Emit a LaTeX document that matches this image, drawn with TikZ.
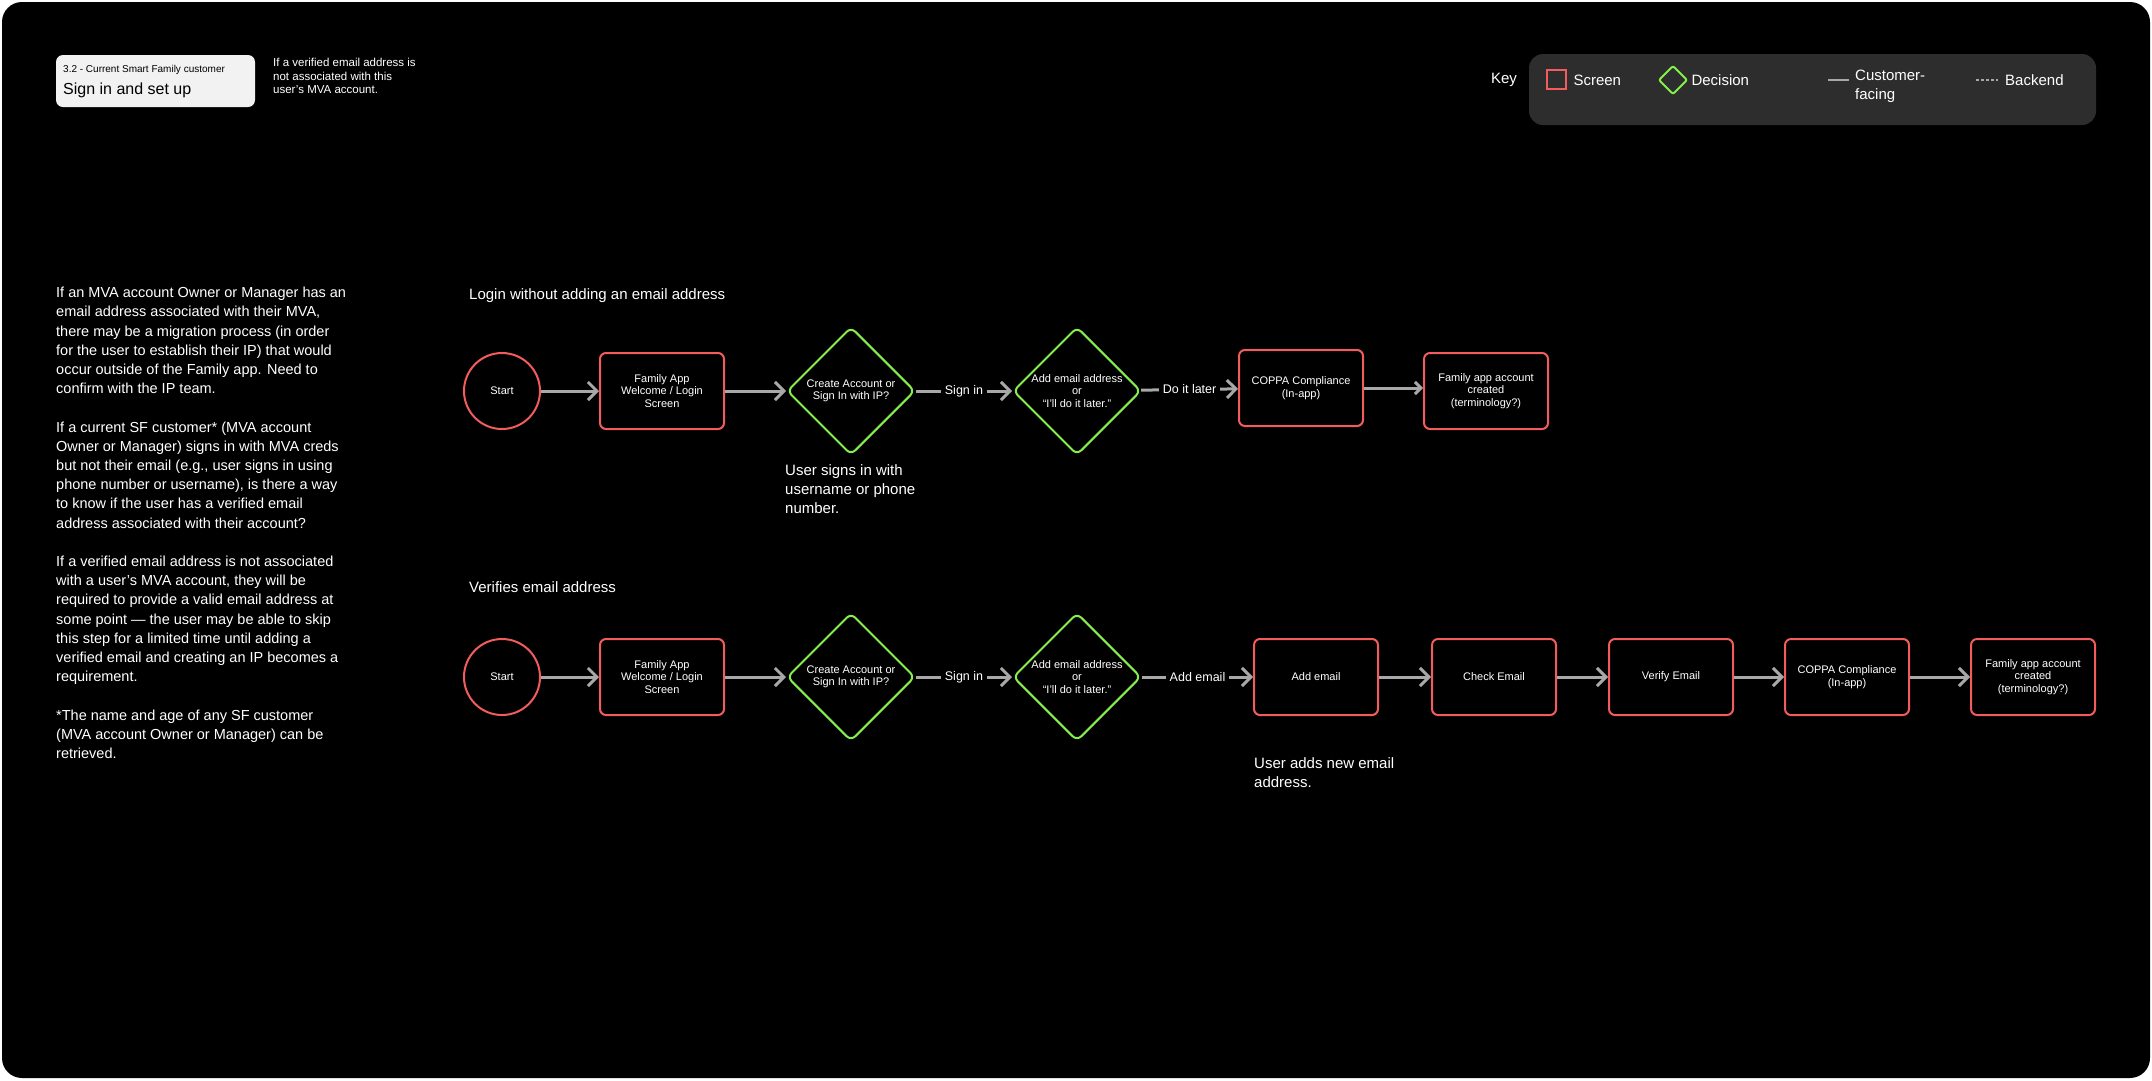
\documentclass[tikz,border=0pt]{standalone}
\usepackage{fontspec}
\setmainfont{Liberation Sans}
\usetikzlibrary{shapes.geometric,arrows.meta}
\definecolor{scr}{HTML}{F25C5C}
\definecolor{dec}{HTML}{86F04A}
\definecolor{arr}{HTML}{A8A8A8}
\definecolor{keybg}{HTML}{2D2D2D}
\tikzset{
  screen/.style={draw=scr,line width=2pt,rounded corners=6pt,minimum width=124pt,minimum height=76pt,align=center,text=white,font=\fontsize{11}{12.5}\selectfont},
  decision/.style={draw=dec,diamond,line width=2pt,rounded corners=6pt,minimum width=128pt,minimum height=128pt,inner sep=0pt,align=center,text=white,font=\fontsize{11}{12.5}\selectfont},
  startnode/.style={draw=scr,circle,line width=2pt,minimum size=76pt,text=white,font=\fontsize{11}{12.5}\selectfont},
  flow/.style={draw=arr,line width=3pt,-{Straight Barb[length=9pt,width=18pt,line width=3pt]}},
  lbl/.style={fill=black,text=white,inner sep=4pt,font=\fontsize{12.5}{14}\selectfont},
  note/.style={text=white,align=left,anchor=north west,inner sep=0pt},
}
\begin{document}
\begin{tikzpicture}[x=1pt,y=-1pt]
\pgfmathsetmacro{\ra}{391}
\pgfmathsetmacro{\rb}{677}
\useasboundingbox (0,0) rectangle (2152,1080);
\fill[white] (0,0) rectangle (2152,1080);
\fill[black,rounded corners=20pt] (2,2) rectangle (2150,1078);
%
\fill[white!95!black,rounded corners=7pt] (56,55) rectangle (255,107);
\node[anchor=west,inner sep=0pt,font=\fontsize{10}{12}\selectfont] (sub) at (63,70) {3.2 - Current Smart Family customer};
\node[anchor=west,inner sep=0pt,font=\fontsize{16}{18}\selectfont] (ttl) at (63,90) {Sign in and set up};
\node[note,font=\fontsize{11.5}{13.5}\selectfont] (side) at (273,58) {If a verified email address is\\not associated with this\\user's MVA account.};
%
\node[text=white,font=\fontsize{15}{17}\selectfont] (key) at (1504,80) {Key};
\fill[keybg,rounded corners=14pt] (1529,54) rectangle (2096,125);
\draw[scr,line width=2pt] (1547,70) rectangle (1566,89);
\node[anchor=west,text=white,font=\fontsize{15}{17}\selectfont] (kscr) at (1570,80) {Screen};
\draw[dec,line width=2pt,rounded corners=2pt] (1673,66) -- (1687,80) -- (1673,94) -- (1659,80) -- cycle;
\node[anchor=west,text=white,font=\fontsize{15}{17}\selectfont] (kdec) at (1688,80) {Decision};
\draw[arr,line width=2.5pt] (1828,80) -- (1849,80);
\node[anchor=north west,text=white,align=left,inner sep=0pt,font=\fontsize{15}{19}\selectfont] (kcus) at (1855,70) {Customer-\\facing};
\draw[arr,line width=1.5pt,dash pattern=on 3pt off 2pt] (1976,80) -- (1998,80);
\node[anchor=west,text=white,inner sep=0pt,font=\fontsize{15}{17}\selectfont] (kbck) at (2005,80) {Backend};
%
\node[note,font=\fontsize{14.5}{19.2}\selectfont] (intro) at (56,287) {If an MVA account Owner or Manager has an\\email address associated with their MVA,\\there may be a migration process (in order\\for the user to establish their IP) that would\\occur outside of the Family app. Need to\\confirm with the IP team.\\[19.2pt]If a current SF customer* (MVA account\\Owner or Manager) signs in with MVA creds\\but not their email (e.g., user signs in using\\phone number or username), is there a way\\to know if the user has a verified email\\address associated with their account?\\[19.2pt]If a verified email address is not associated\\with a user's MVA account, they will be\\required to provide a valid email address at\\some point — the user may be able to skip\\this step for a limited time until adding a\\verified email and creating an IP becomes a\\requirement.\\[19.2pt]*The name and age of any SF customer\\(MVA account Owner or Manager) can be\\retrieved.};
%
\node[note,anchor=west,font=\fontsize{15}{17}\selectfont] (t1) at (469,296) {Login without adding an email address};
\node[startnode] (s1) at (502,\ra) {Start};
\node[screen] (w1) at (662,\ra) {Family App\\Welcome / Login\\Screen};
\node[decision] (c1) at (851,\ra) {Create Account or\\Sign In with IP?};
\node[decision] (e1) at (1077,\ra) {Add email address\\or\\“I'll do it later.”};
\node[screen] (p1) at (1301,388) {COPPA Compliance\\(In-app)};
\node[screen] (f1) at (1486,\ra) {Family app account\\created\\(terminology?)};
\node[note,font=\fontsize{15}{19}\selectfont] (n1) at (785,464) {User signs in with\\username or phone\\number.};
%
\draw[flow] (s1) -- (w1);
\draw[flow] (w1) -- (c1);
\draw[flow] (c1) -- node[lbl]{Sign in} (e1);
\draw[flow] (e1) -- node[lbl]{Do it later} (p1);
\draw[flow,-{Straight Barb[length=6pt,width=12pt,line width=3pt]}] (p1.east) -- (f1.west |- p1.east);
%
\node[note,anchor=west,font=\fontsize{15}{17}\selectfont] (t2) at (469,587) {Verifies email address};
\node[startnode] (s2) at (502,\rb) {Start};
\node[screen] (w2) at (662,\rb) {Family App\\Welcome / Login\\Screen};
\node[decision] (c2) at (851,\rb) {Create Account or\\Sign In with IP?};
\node[decision] (e2) at (1077,\rb) {Add email address\\or\\“I'll do it later.”};
\node[screen] (a2) at (1316,\rb) {Add email};
\node[screen] (k2) at (1494,\rb) {Check Email};
\node[screen] (v2) at (1671,\rb) {Verify Email};
\node[screen] (p2) at (1847,\rb) {COPPA Compliance\\(In-app)};
\node[screen] (f2) at (2033,\rb) {Family app account\\created\\(terminology?)};
\node[note,font=\fontsize{15}{19}\selectfont] (n2) at (1254,757) {User adds new email\\address.};
%
\draw[flow] (s2) -- (w2);
\draw[flow] (w2) -- (c2);
\draw[flow] (c2) -- node[lbl]{Sign in} (e2);
\draw[flow] (e2) -- node[lbl]{Add email} (a2);
\draw[flow] (a2) -- (k2);
\draw[flow] (k2) -- (v2);
\draw[flow] (v2) -- (p2);
\draw[flow] (p2) -- (f2);
\end{tikzpicture}
\end{document}
